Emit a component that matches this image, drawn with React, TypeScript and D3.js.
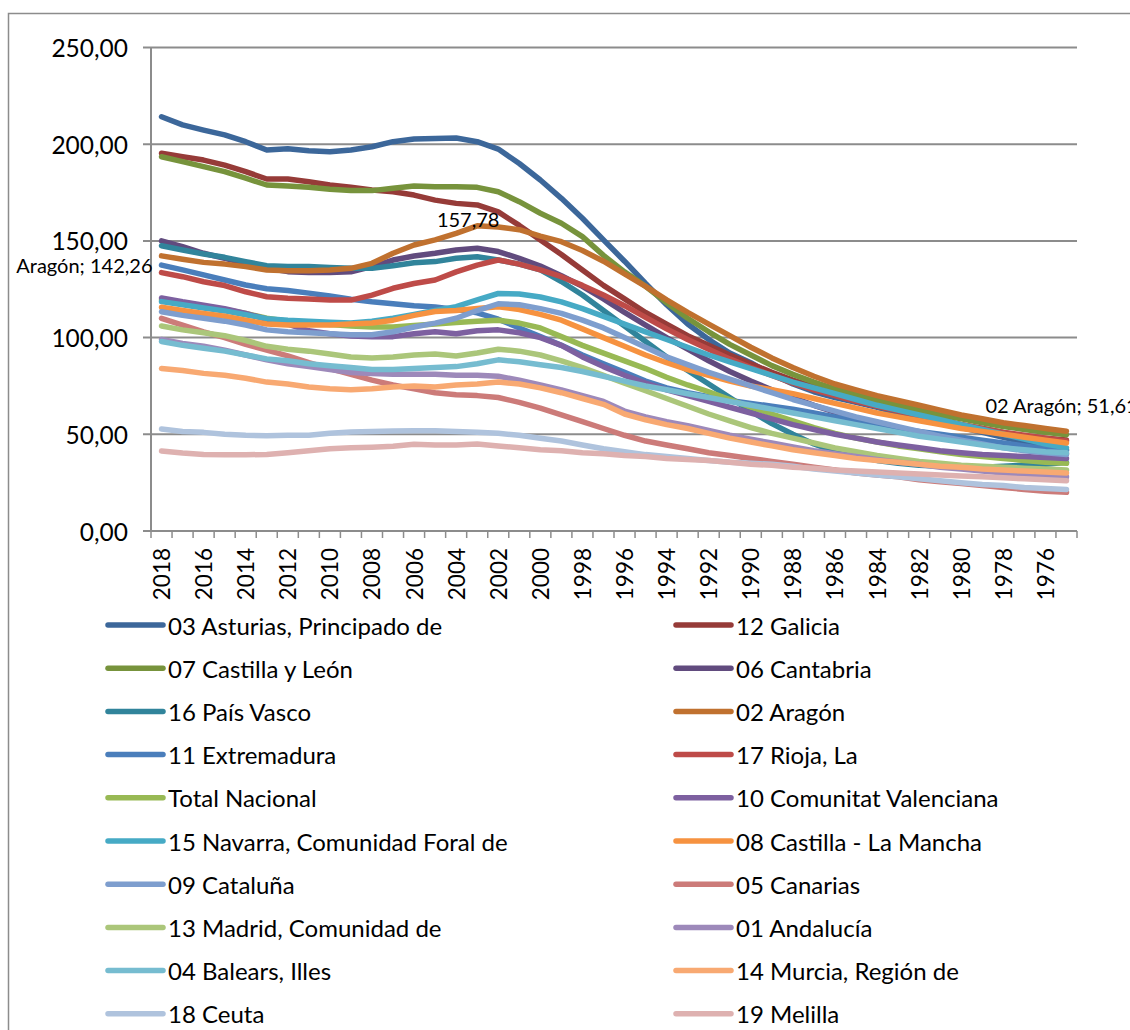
import React from 'react';
import * as d3 from 'd3';

const years: number[] = [2018, 2017, 2016, 2015, 2014, 2013, 2012, 2011, 2010, 2009, 2008, 2007, 2006, 2005, 2004, 2003, 2002, 2001, 2000, 1999, 1998, 1997, 1996, 1995, 1994, 1993, 1992, 1991, 1990, 1989, 1988, 1987, 1986, 1985, 1984, 1983, 1982, 1981, 1980, 1979, 1978, 1977, 1976, 1975];

const yTickValues: number[] = [0, 50, 100, 150, 200, 250];
const xTickLabels: number[] = [2018, 2016, 2014, 2012, 2010, 2008, 2006, 2004, 2002, 2000, 1998, 1996, 1994, 1992, 1990, 1988, 1986, 1984, 1982, 1980, 1978, 1976];

const seriesNames: string[] = [
  '03 Asturias, Principado de', '12 Galicia',
  '07 Castilla y León', '06 Cantabria',
  '16 País Vasco', '02 Aragón',
  '11 Extremadura', '17 Rioja, La',
  'Total Nacional', '10 Comunitat Valenciana',
  '15 Navarra, Comunidad Foral de', '08 Castilla - La Mancha',
  '09 Cataluña', '05 Canarias',
  '13 Madrid, Comunidad de', '01 Andalucía',
  '04 Balears, Illes', '14 Murcia, Región de',
  '18 Ceuta', '19 Melilla',
];

const seriesColors: string[] = [
  '#3c679a', '#963b38',
  '#77933c', '#614b7e',
  '#31849b', '#c0712f',
  '#4a7ebb', '#be4b48',
  '#98b954', '#7d60a0',
  '#46aac5', '#f69240',
  '#7e9ece', '#cc7b79',
  '#abc67a', '#9d89ba',
  '#76bcd0', '#f8a972',
  '#afc3dd', '#deb1b0',
];

const asturias = [214.2, 210, 207.3, 204.8, 201.3, 197, 197.7, 196.6, 196.1, 197, 198.7, 201.3, 202.7, 203, 203.2, 201.3, 197.5, 190, 181.5, 172, 161.7, 150.5, 139.5, 128, 117, 107, 99, 92, 87, 81, 76, 72, 69, 66.5, 64, 61, 58.5, 56, 53.5, 51, 48.5, 46, 44, 42];
const galicia = [195.3, 193.5, 191.8, 189.2, 185.8, 182, 182, 180.6, 178.9, 177.7, 176.3, 175.4, 173.7, 171.1, 169.4, 168.6, 165, 158, 150.5, 143, 135, 127, 120, 113, 107, 101, 96, 91, 86.5, 82, 78, 74.5, 71, 68, 65, 62.5, 60, 57.5, 55, 53, 51, 49, 48, 47];
const castillaLeon = [193.5, 191, 188.4, 185.8, 182.4, 178.9, 178.4, 177.7, 176.7, 176, 176, 177.2, 178.4, 178, 178, 177.7, 175.4, 170.3, 164.3, 159.1, 152.2, 142.5, 134, 126.5, 118, 110, 103, 96.5, 91, 85.5, 81, 77, 73.5, 70.5, 67.5, 65, 62.5, 60, 58, 56, 54, 52.5, 51, 49.8];
const cantabria = [150, 147, 143.6, 141, 138.4, 135.8, 134.1, 133.6, 133.6, 134, 136.7, 140.1, 142.2, 143.6, 145.3, 146.2, 144.5, 141, 137, 132, 126.5, 120, 113, 106.5, 100, 94, 88, 82.5, 77.5, 73, 69, 65, 61.5, 58.5, 55.5, 53, 50.5, 48.5, 46.5, 45, 43.5, 42, 41, 40];
const paisVasco = [147.5, 145.3, 143.2, 141.5, 139.3, 137.2, 136.7, 136.7, 136.3, 135.8, 135.8, 137.2, 138.7, 139.3, 141, 141.8, 140.1, 138, 135, 129, 122, 114, 106, 98, 90, 83, 76, 69, 62, 55.5, 50, 45, 41, 38.5, 36.5, 35, 34, 33.5, 33, 33, 33.5, 34, 34.5, 35.5];
const aragon = [142.26, 140.5, 138.9, 138, 136.7, 135, 134.6, 134.6, 135, 135.8, 138.4, 143.6, 147.9, 150.5, 153.9, 157.78, 157.2, 155.8, 152.5, 149.6, 145, 139.5, 133, 126.5, 119.5, 113, 107, 101, 95, 89.5, 84.5, 80, 76, 73, 70, 67.5, 65, 62.5, 60, 58, 56, 54.5, 53, 51.61];
const extremadura = [137.5, 135, 132.4, 129.8, 127.2, 125.3, 124.3, 123, 121.5, 119.8, 118.5, 117.5, 116.5, 115.8, 114.5, 112.8, 109.5, 105, 100.5, 96, 91, 86.5, 82, 77.5, 74, 71.5, 69.5, 67.5, 66, 64.5, 63, 61, 59, 57, 55, 53, 51.5, 50, 48.5, 47, 45.5, 44, 42.5, 41.5];
const rioja = [133.6, 131.5, 128.9, 126.9, 123.7, 121.1, 120.3, 120, 119.4, 119.4, 122, 125.5, 128, 129.8, 134, 137.5, 140.1, 138, 135, 131.5, 127, 122, 116.5, 110.5, 104.5, 99, 94, 89, 84.5, 80.5, 76.5, 73, 70, 67, 64.5, 62, 59.5, 57, 55, 53, 51, 49.5, 48, 46.5];
const totalNacional = [119.5, 117.8, 116.2, 114.6, 112.5, 110, 108.5, 107.8, 106.8, 106, 105.5, 105.5, 106.2, 107, 107.8, 108.5, 109, 107.5, 105, 100.5, 96, 92, 88, 84, 79.5, 75.5, 72, 68, 64, 60.5, 57, 53.5, 50.5, 48, 46, 44, 42.5, 41, 39.5, 38.5, 37.5, 36.5, 35.5, 35];
const valenciana = [120.5, 118.5, 116.8, 115, 112.5, 109.5, 107, 103.5, 102, 100.8, 100.5, 100.5, 102, 103, 102, 103.5, 104, 102.5, 100, 96, 90, 85, 80.5, 76.5, 73, 70, 67, 64, 61, 58, 55, 52.5, 50, 48, 46, 44.5, 43, 41.5, 40.5, 39.5, 39, 38.5, 38, 37.5];
const navarra = [118.6, 117, 115.3, 113.8, 111.8, 109.8, 109, 108.5, 108, 107.5, 108.5, 110, 112, 114, 116, 119.5, 122.8, 122.5, 121, 118.5, 115, 111, 107, 103, 99, 95, 91, 87.5, 84, 80.5, 77, 74, 71, 68, 65, 62.5, 60, 57.5, 55, 52.5, 50, 47.5, 45, 43];
const castillaMancha = [115.7, 114, 112.5, 111, 109, 107, 106.5, 106.5, 106.5, 107, 107.5, 109, 111.5, 113.5, 114, 115, 116, 114.5, 112, 109, 104.5, 100, 95.5, 91, 87, 83.5, 80.5, 77.5, 75, 73, 71, 68.5, 66, 63.5, 61, 59, 57, 55, 53, 51.5, 50, 48.5, 47, 45.5];
const cataluna = [113.4, 111.5, 110, 108.5, 106.5, 104, 103, 102.5, 102, 101.5, 101.5, 103, 105.5, 107.5, 110, 114, 117.5, 117, 115, 112.5, 109, 105, 100, 95, 90, 86, 82, 78.5, 75, 71.5, 68, 65, 62, 59, 56.5, 54, 51.5, 49, 47, 45, 43, 41.5, 40.5, 39.5];
const canarias = [110, 106.5, 103, 100, 96.5, 93.5, 90.5, 87, 84, 81, 78, 75.5, 73.5, 71.5, 70.5, 70, 69, 66.5, 63.5, 60, 56.5, 53, 49.5, 46.5, 44.5, 42.5, 40.5, 39, 37.5, 36, 34.5, 33, 31.5, 30, 29, 28, 26.5, 25.5, 24.5, 23.5, 22.5, 21.5, 20.5, 20];
const madrid = [106, 104, 102.5, 101, 98.5, 95.5, 94, 93, 91.5, 90, 89.5, 90, 91, 91.5, 90.5, 92, 94, 93, 91, 88, 84.5, 80.5, 76.5, 72.5, 68.5, 64.5, 60.5, 57, 53.5, 50.5, 48, 45.5, 43, 41, 39, 37.5, 36, 35, 34, 33.5, 33, 32.5, 32, 31.5];
const andalucia = [99, 97, 95.5, 93.5, 91, 88.5, 86.5, 85, 83.5, 82, 81.5, 81, 81, 81, 80.5, 80.5, 80, 78, 75.5, 73, 70, 67, 62, 59, 56.5, 54.5, 52, 49.5, 47.5, 45.5, 43.5, 41.5, 40, 38.5, 37, 35.5, 34.5, 33, 32, 31, 30, 29, 28.5, 28];
const baleares = [98, 96, 94.5, 93, 91, 89, 88, 86.5, 85.5, 84.5, 83.5, 83.5, 84, 84.5, 85, 86.5, 88.5, 87.5, 86, 84.5, 82.5, 80, 77.5, 75, 73, 71, 69, 67, 65, 63, 61, 59, 57, 55, 53, 51, 49, 47.5, 46, 44.5, 43, 42, 41, 40.5];
const murcia = [84, 83, 81.5, 80.5, 79, 77, 76, 74.5, 73.5, 73, 73.5, 74.5, 75, 74.5, 75.5, 76, 77, 76, 74, 71.5, 68.5, 65.5, 60.5, 57.5, 55, 53, 50.5, 48, 46, 44, 42, 40.5, 39, 37.5, 36.5, 35.5, 34.5, 33.5, 33, 32, 31.5, 31, 30.5, 30];
const ceuta = [52.7, 51.5, 51, 50, 49.5, 49.3, 49.5, 49.5, 50.5, 51.2, 51.5, 51.7, 51.8, 51.8, 51.5, 51, 50.5, 49.5, 48, 46.5, 44.5, 42.5, 41, 39.5, 38.5, 37.5, 36.5, 35.5, 35, 34.5, 33.5, 32, 31, 30, 29, 28, 27, 26, 25, 24, 23.5, 22.5, 22, 21.5];
const melilla = [41.4, 40.3, 39.5, 39.4, 39.4, 39.6, 40.5, 41.5, 42.5, 43, 43.3, 43.8, 44.8, 44.5, 44.5, 45, 44, 43, 42, 41.5, 40.5, 40, 39, 38.5, 37.5, 37, 36.5, 35.5, 34.5, 34, 33, 32.5, 31.5, 31, 30.5, 30, 29.5, 29, 28.5, 28, 27.5, 27, 26.5, 26];

const seriesValues: number[][] = [
  asturias, galicia, castillaLeon, cantabria, paisVasco, aragon,
  extremadura, rioja, totalNacional, valenciana, navarra, castillaMancha,
  cataluna, canarias, madrid, andalucia, baleares, murcia, ceuta, melilla,
];

const W = 1130;
const H = 1030;
const FONT = 'Lato, "Open Sans", sans-serif';
const fmt = (v: number) => v.toFixed(2).replace('.', ',');

export default function App() {
  const x = d3.scaleBand<number>().domain(years).range([151, 1077]).padding(0);
  const cx = (yr: number) => (x(yr) as number) + x.bandwidth() / 2;
  const y = d3.scaleLinear().domain([0, 250]).range([531, 47.5]);

  const line = d3
    .line<number>()
    .x((_, i) => cx(years[i]))
    .y((d) => y(d));

  const boundaries = years.map((yr) => x(yr) as number).concat([1077]);

  const legendRowY = (r: number) => 625 + r * 43.2;

  const aragonIdx = 5;
  const peakIdx = aragon.indexOf(d3.max(aragon) as number);

  return (
    <svg
      width={W}
      height={H}
      style={{ position: 'absolute', left: 0, top: 0, background: '#fff' }}
      fontFamily={FONT}
    >
      <rect x={0} y={0} width={W} height={H} fill="#fff" />
      <path d="M8.5,1040 V13.5 H1140" fill="none" stroke="#8c8c8c" strokeWidth={1.5} />

      {/* gridlines */}
      {yTickValues.map((v) => (
        <line key={'g' + v} x1={143} x2={1077} y1={y(v)} y2={y(v)} stroke="#8c8c8c" strokeWidth={2} />
      ))}
      {/* y axis */}
      <line x1={151} x2={151} y1={y(250)} y2={y(0)} stroke="#8c8c8c" strokeWidth={2} />
      {yTickValues.map((v) => (
        <text key={'yl' + v} x={128} y={y(v)} textAnchor="end" dominantBaseline="central" fontSize={24.5} fill="#000">
          {fmt(v)}
        </text>
      ))}
      {/* x axis ticks */}
      {boundaries.map((bx, i) => (
        <line key={'xt' + i} x1={bx} x2={bx} y1={y(0)} y2={y(0) + 7} stroke="#8c8c8c" strokeWidth={1.5} />
      ))}
      {xTickLabels.map((yr) => (
        <text
          key={'xl' + yr}
          transform={`translate(${cx(yr)},${y(0) + 17}) rotate(-90)`}
          textAnchor="end"
          dominantBaseline="central"
          fontSize={22.5}
          fill="#000"
        >
          {yr}
        </text>
      ))}

      {/* series */}
      {seriesValues.map((vals, s) => (
        <path
          key={'s' + s}
          d={line(vals) as string}
          fill="none"
          stroke={seriesColors[s]}
          strokeWidth={5.5}
          strokeLinecap="round"
          strokeLinejoin="round"
        />
      ))}

      {/* data labels */}
      <text x={cx(years[peakIdx]) - 9} y={y(aragon[peakIdx]) + 1} textAnchor="middle" fontSize={20} fill="#000">
        {fmt(aragon[peakIdx])}
      </text>
      <text x={cx(years[0]) - 9} y={y(aragon[0]) + 17} textAnchor="end" fontSize={20} fill="#000">
        {'Aragón; ' + fmt(aragon[0])}
      </text>
      <text x={cx(years[43]) - 81} y={y(aragon[43]) - 18} textAnchor="start" fontSize={20} fill="#000">
        {seriesNames[aragonIdx] + '; ' + fmt(aragon[43])}
      </text>

      {/* legend */}
      {seriesNames.map((name, s) => {
        const col = s % 2;
        const row = Math.floor(s / 2);
        const lx = col === 0 ? 108 : 676;
        const ly = legendRowY(row);
        return (
          <g key={'lg' + s}>
            <line x1={lx} x2={lx + 55} y1={ly} y2={ly} stroke={seriesColors[s]} strokeWidth={5.5} strokeLinecap="round" />
            <text x={lx + 60} y={ly} dominantBaseline="central" fontSize={24} fill="#000">
              {name}
            </text>
          </g>
        );
      })}
    </svg>
  );
}
